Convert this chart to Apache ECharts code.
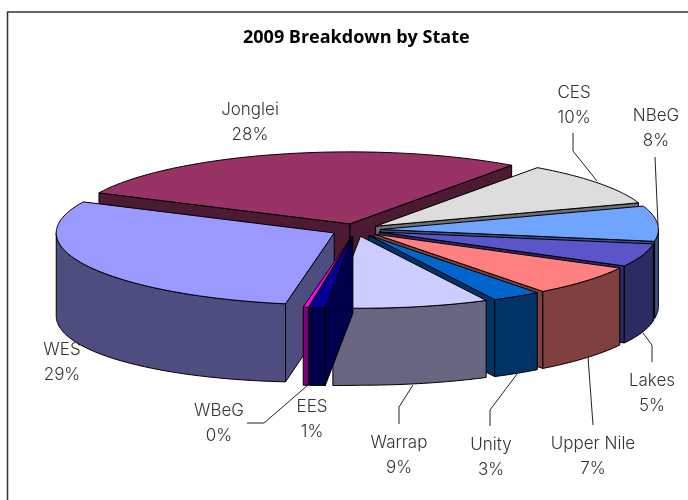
<!DOCTYPE html>
<html>
<head>
<meta charset="utf-8">
<style>
  html, body { margin: 0; padding: 0; background: #fff; }
  #main { width: 688px; height: 500px; }
</style>
<script src="https://cdn.jsdelivr.net/npm/echarts@6/dist/echarts.min.js"></script>
</head>
<body>
<div id="main"></div>
<script>
// clockwise from Jonglei, which is where the slices start
var states = ['Jonglei', 'CES', 'NBeG', 'Lakes', 'Upper Nile', 'Unity', 'Warrap', 'EES', 'WBeG', 'WES'];
var shares = [27.8, 9.85, 7.9, 5.18, 6.84, 2.88, 9.05, 0.92, 0.3, 29.28];

var topColors = ['#993366', '#dddddd', '#6fa5ff', '#5a55c8', '#ff8080', '#0066cc', '#ccccff', '#000099', '#ff00ff', '#9999ff'];
var wallColors = ['#4d1a33', '#6f6f6f', '#385380', '#2d2b64', '#804040', '#003366', '#666680', '#00004d', '#800080', '#4d4d80'];

// label centres, hand placed like the original
var labelX = [250, 574, 656, 652, 593, 491, 399, 312, 219, 62];
var labelY = [122, 105, 128, 393, 456, 457, 455, 419, 423, 362];

var leaders = [
	[[573, 133], [573, 151], [597, 181]],
	[[655, 157], [658, 225]],
	[[652, 362], [652, 345], [643, 333]],
	[[593, 425], [588, 357]],
	[[490, 426], [490, 410], [517, 374]],
	[[399, 424], [399, 407], [413, 385]],
	[[247, 423], [264, 423], [308, 385]]
];

var startAngle = -64.5;
var cx = 356, cy = 230;
var rx = 278, ry = 72;
var explode = 0.088;
var depth = 77;

var rad = Math.PI / 180;

function pt(angle, r, ox, oy, dy) {
	return [ox + Math.sin(angle * rad) * rx * r, oy - Math.cos(angle * rad) * ry * r + (dy || 0)];
}

// the rim gets a bit taller towards the left, as in the original's perspective
function rimDepth(angle) {
	return depth * (1 + 0.08 * Math.max(0, -Math.sin(angle * rad)));
}

function arc(a0, a1, ox, oy, lowered) {
	var pts = [];
	var n = Math.max(2, Math.ceil(Math.abs(a1 - a0)));
	for (var i = 0; i <= n; i++) {
		var a = a0 + (a1 - a0) * i / n;
		pts.push(pt(a, 1, ox, oy, lowered ? rimDepth(a) : 0));
	}
	return pts;
}

// turn the shares into angles
var total = shares.reduce(function (a, b) { return a + b; }, 0);
var slices = [];
var running = startAngle;
states.forEach(function (name, i) {
	var sweep = shares[i] / total * 360;
	slices.push({ index: i, a0: running, a1: running + sweep, mid: running + sweep / 2 });
	running += sweep;
});

// back to front
slices.sort(function (a, b) {
	return Math.cos(b.mid * rad) - Math.cos(a.mid * rad);
});

function poly(points, fill, z2) {
	return {
		type: 'polygon',
		z2: z2,
		shape: { points: points },
		style: { fill: fill, stroke: '#000', lineWidth: 1, lineJoin: 'round' }
	};
}

function renderSlice(params, api) {
	var s = slices[params.dataIndex];
	var order = params.dataIndex * 5;
	var top = topColors[s.index], wall = wallColors[s.index];
	var o = pt(s.mid, explode, cx, cy);
	var ox = o[0], oy = o[1];
	var children = [];

	function edge(angle) {
		var p = pt(angle, 1, ox, oy);
		children.push(poly([[ox, oy], p, [p[0], p[1] + rimDepth(angle)], [ox, oy + depth]], wall, order));
	}
	// side faces only where they look at the viewer
	if (Math.sin(s.a0 * rad) < 0) edge(s.a0);
	if (Math.sin(s.a1 * rad) > 0) edge(s.a1);

	// rim, front half only
	var from = Math.max(s.a0, 90), to = Math.min(s.a1, 270);
	if (to > from) {
		children.push(poly(arc(from, to, ox, oy, false).concat(arc(to, from, ox, oy, true)), wall, order + 1));
	}

	var face = [[ox, oy]].concat(arc(s.a0, s.a1, ox, oy, false));
	children.push(poly(face, top, order + 2));

	return { type: 'group', children: children };
}

function renderLabel(params, api) {
	var i = params.dataIndex;
	return {
		type: 'text',
		z2: 200,
		style: {
			text: states[i] + '\n' + Math.round(shares[i]) + '%',
			x: labelX[i],
			y: labelY[i],
			align: 'center',
			verticalAlign: 'middle',
			lineHeight: 25,
			fontFamily: 'Inter',
			fontWeight: 300,
			fontSize: 17,
			fill: '#333'
		}
	};
}

var myChart = echarts.init(document.getElementById('main'), null, { renderer: 'canvas' });

myChart.setOption({
	animation: false,
	backgroundColor: '#fff',
	title: {
		text: '2009 Breakdown by State',
		left: 243,
		top: 29,
		padding: 0,
		textStyle: { fontFamily: 'Open Sans', fontSize: 18, fontWeight: 'bold', color: '#000' }
	},
	graphic: [
		{
			type: 'polyline',
			silent: true,
			shape: { points: [[7.5, 500], [7.5, 12], [688, 12]] },
			style: { stroke: '#333', lineWidth: 1.5, fill: null }
		}
	].concat(leaders.map(function (line) {
		return {
			type: 'polyline',
			silent: true,
			z: 10,
			shape: { points: line },
			style: { stroke: '#222', lineWidth: 1, fill: null }
		};
	})),
	series: [
		{
			type: 'custom',
			coordinateSystem: 'none',
			silent: true,
			clip: false,
			data: slices.map(function (s) { return shares[s.index]; }),
			renderItem: renderSlice
		},
		{
			type: 'custom',
			coordinateSystem: 'none',
			silent: true,
			clip: false,
			z: 20,
			data: shares,
			renderItem: renderLabel
		}
	]
});
</script>
</body>
</html>
